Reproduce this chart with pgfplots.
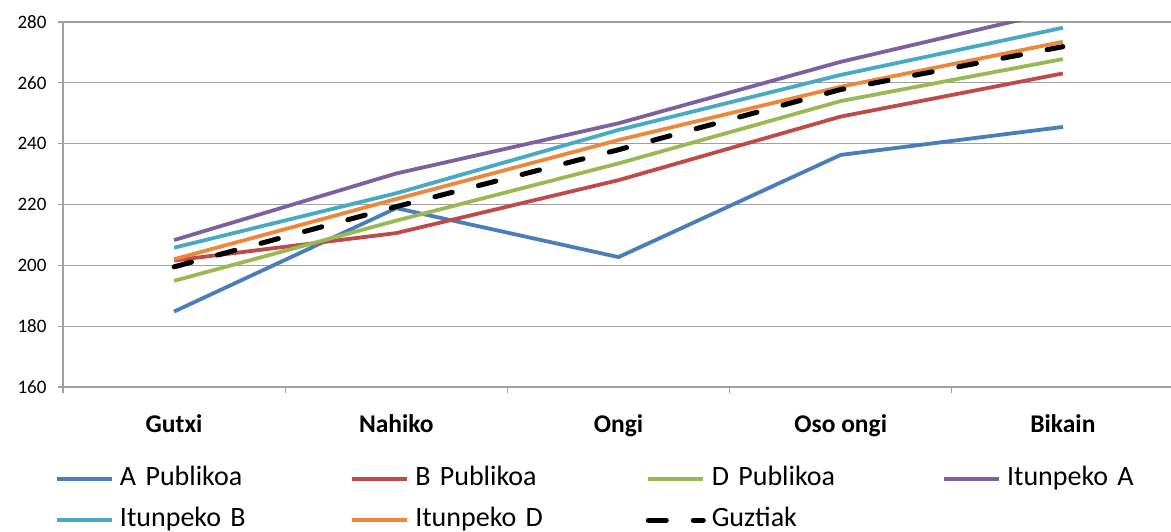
\documentclass[border=0pt]{standalone}
\usepackage{pgfplots}
\pgfplotsset{compat=1.18}
\usepackage{fontspec}
\setmainfont{Carlito}
\newcommand{\legfont}{\fontsize{28}{28}\selectfont\spaceskip=4.8pt\relax}
\definecolor{cA}{HTML}{4A7EBB}
\definecolor{cB}{HTML}{BE4B48}
\definecolor{cD}{HTML}{98B954}
\definecolor{cIA}{HTML}{7D60A0}
\definecolor{cIB}{HTML}{46AAC5}
\definecolor{cID}{HTML}{EC873C}
\definecolor{gridc}{HTML}{A0A0A0}
\begin{document}
\begin{tikzpicture}
\begin{axis}[
  name=ax, at={(0,0)}, anchor=south west,
  scale only axis, width=1111pt, height=365pt,
  xmin=-0.5, xmax=4.5, ymin=160, ymax=280,
  axis x line*=bottom, axis y line*=left,
  axis line style={gridc, line width=1.3pt},
  xtick={0,1,2,3,4},
  xticklabels={Gutxi,Nahiko,Ongi,Oso ongi,Bikain},
  major x tick style={draw=none},
  minor xtick={-0.5,0.5,1.5,2.5,3.5,4.5},
  minor x tick style={gridc, line width=1.3pt},
  minor tick length=6pt,
  ytick={160,180,...,280},
  major y tick style={gridc, line width=1.3pt},
  major tick length=5pt,
  tick align=outside,
  ymajorgrids, grid style={gridc, line width=1.3pt},
  /pgf/number format/assume math mode=true,
  yticklabel style={font=\fontsize{19}{19}\selectfont, xshift=-8pt},
  xticklabel style={font=\fontsize{25.5}{25.5}\selectfont\bfseries, yshift=-19pt},
  legend columns=4,
  legend style={draw=none, at={(0,0)}, anchor=north west, xshift=-11pt, yshift=-78pt,
    font=\legfont,
    nodes={inner sep=0pt, text height=18pt, text depth=6pt, text width=230.5pt, align=left, anchor=west},
    /tikz/every odd column/.append style={column sep=6pt},
    row sep=17pt},
  legend cell align=left,
  legend image code/.code={\draw[#1] (0pt,0pt) -- (55pt,0pt);},
]
\addplot[cA, line width=3.8pt, line join=round] coordinates {(0,184.8) (1,218.8) (2,202.7) (3,236.3) (4,245.5)};
\addlegendentry{A Publikoa}
\addplot[cB, line width=3.8pt, line join=round] coordinates {(0,201.6) (1,210.6) (2,228.0) (3,248.9) (4,263.1)};
\addlegendentry{B Publikoa}
\addplot[cD, line width=3.8pt, line join=round] coordinates {(0,194.9) (1,214.7) (2,233.5) (3,254.0) (4,267.8)};
\addlegendentry{D Publikoa}
\addplot[cIA, line width=3.8pt, line join=round] coordinates {(0,208.3) (1,230.2) (2,246.7) (3,266.9) (4,284.0)};
\addlegendentry{Itunpeko A}
\addplot[cIB, line width=3.8pt, line join=round] coordinates {(0,205.8) (1,223.7) (2,244.5) (3,262.6) (4,278.1)};
\addlegendentry{Itunpeko B}
\addplot[cID, line width=3.8pt, line join=round] coordinates {(0,202.0) (1,221.8) (2,241.2) (3,258.7) (4,273.5)};
\addlegendentry{Itunpeko D}
\addplot[black, line width=5pt, line cap=round, line join=round, dash pattern=on 18pt off 27pt] coordinates {(0,199.5) (1,219.3) (2,238.0) (3,257.8) (4,271.9)};
\addlegendentry{Guztiak}
\end{axis}
\pgfresetboundingbox
\useasboundingbox ([xshift=-63pt,yshift=22pt]ax.north west) rectangle ++(1171pt,-532pt);
\end{tikzpicture}
\end{document}
